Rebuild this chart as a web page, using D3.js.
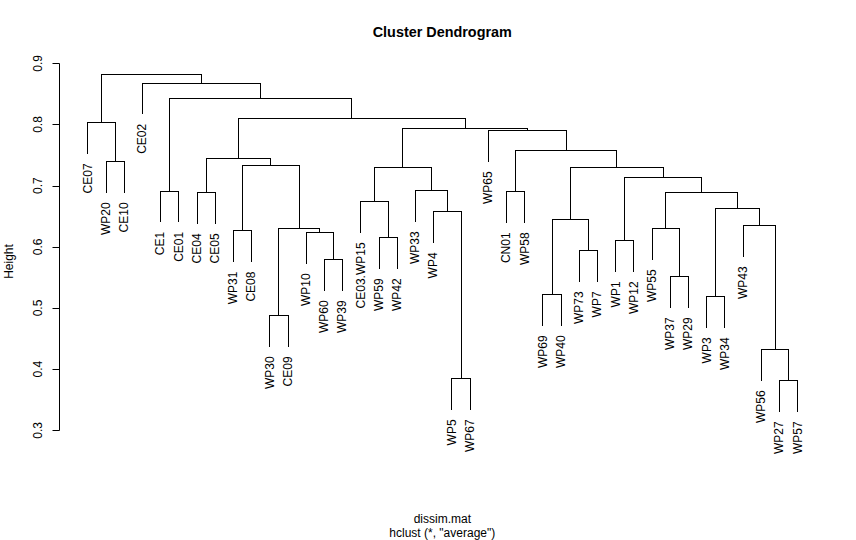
<!DOCTYPE html>
<html>
<head>
<meta charset="utf-8">
<script src="https://cdn.jsdelivr.net/npm/d3@7"></script>
<style>
  html, body { margin: 0; padding: 0; background: #fff; }
  svg { display: block; }
  text { font-family: "Liberation Sans", Arial, sans-serif; fill: #000; }
</style>
</head>
<body>
<svg id="chart" width="856" height="540"></svg>
<script>
// Leaf labels in display order (left to right)
const leafLabels = ["CE07","WP20","CE10","CE02","CE1","CE01","CE04","CE05","WP31","CE08",
  "WP30","CE09","WP10","WP60","WP39","CE03.WP15","WP59","WP42","WP33","WP4",
  "WP5","WP67","WP65","CN01","WP58","WP69","WP40","WP73","WP7","WP1",
  "WP12","WP55","WP37","WP29","WP3","WP34","WP43","WP56","WP27","WP57"];

// Merge steps (R hclust style): negative = leaf number (1-based, display order), positive = earlier merge step
const mergeLeft  = [-39,-21,-38,-11,-35,-26,-33,-14,-28,-30,-17,-13, -9, 4,-32,-37, 6,-20, 5,-16,15, -7,-24, -5,-19,10,20,17,13, -2,22,23,-23,27,31, -1,24, -4,36];
const mergeRight = [-40,-22,  1,-12,-36,-27,-34,-15,-29,-31,-18,  8,-10,12,  7,  3, 9,  2,16, 11,19, -8,-25, -6, 18,21,25,26,14, -3,29,28, 32,33,34, 30,35, 37,38];
const mergeHeight = [0.3818,0.3850,0.4325,0.4880,0.5191,0.5224,0.5518,0.5796,0.5943,0.6106,
  0.6155,0.6237,0.6267,0.6303,0.6303,0.6352,0.6450,0.6580,0.6630,0.6744,
  0.6896,0.6891,0.6907,0.6917,0.6924,0.7136,0.7300,0.7300,0.7333,0.7398,
  0.7447,0.7578,0.7905,0.7937,0.8101,0.8035,0.8428,0.8683,0.8820];

const yTicks = [0.3,0.4,0.5,0.6,0.7,0.8,0.9];
const titleText = "Cluster Dendrogram";
const xLabel = "dissim.mat";
const subLabel = "hclust (*, \"average\")";
const yLabel = "Height";

const svg = d3.select("#chart");
const x = d3.scaleLinear().domain([1, leafLabels.length]).range([87.3, 797.3]);
const y = d3.scaleLinear().domain([0.3, 0.9]).range([430.3, 63.3]);

const hang = 0.1 * (d3.max(mergeHeight) - d3.min(mergeHeight));

// compute node positions
const nodeX = [], nodeH = [];
function childX(c) { return c < 0 ? -c : nodeX[c - 1]; }
for (let i = 0; i < mergeHeight.length; i++) {
  nodeX[i] = (childX(mergeLeft[i]) + childX(mergeRight[i])) / 2;
  nodeH[i] = mergeHeight[i];
}

const segs = [];
const leafEnds = [];
for (let i = 0; i < mergeHeight.length; i++) {
  const h = mergeHeight[i];
  const kids = [mergeLeft[i], mergeRight[i]];
  const xs = kids.map(childX);
  segs.push([xs[0], h, xs[1], h]);
  kids.forEach((c, k) => {
    if (c < 0) {
      segs.push([xs[k], h, xs[k], h - hang]);
      leafEnds.push({ i: -c, y: h - hang });
    } else {
      segs.push([xs[k], h, xs[k], nodeH[c - 1]]);
    }
  });
}

const g = svg.append("g");
g.selectAll("line.seg").data(segs).join("line")
  .attr("class", "seg")
  .attr("x1", d => Math.round(x(d[0])) + 0.5)
  .attr("x2", d => Math.round(x(d[2])) + 0.5)
  .attr("y1", d => Math.round(y(d[1])) + 0.5)
  .attr("y2", d => Math.round(y(d[3])) + 0.5)
  .attr("stroke", "#000").attr("stroke-width", 1)
  .attr("stroke-linecap", "square");

// leaf labels
g.selectAll("text.leaf").data(leafEnds).join("text")
  .attr("class", "leaf")
  .attr("transform", d => `translate(${x(d.i) + 4.3},${y(d.y) + 10.5}) rotate(-90)`)
  .attr("text-anchor", "end")
  .attr("font-size", 12)
  .text(d => leafLabels[d.i - 1]);

// y axis (R style)
const axisX = 59.5;
const ax = svg.append("g");
ax.append("line")
  .attr("x1", axisX).attr("x2", axisX)
  .attr("y1", Math.round(y(0.9)) + 0.5).attr("y2", Math.round(y(0.3)) + 0.5)
  .attr("stroke", "#000");
ax.selectAll("line.tick").data(yTicks).join("line")
  .attr("class", "tick")
  .attr("x1", axisX).attr("x2", axisX - 7)
  .attr("y1", d => Math.round(y(d)) + 0.5).attr("y2", d => Math.round(y(d)) + 0.5)
  .attr("stroke", "#000");
ax.selectAll("text.tl").data(yTicks).join("text")
  .attr("class", "tl")
  .attr("transform", d => `translate(42.3,${y(d)}) rotate(-90)`)
  .attr("text-anchor", "middle")
  .attr("font-size", 12)
  .text(d => d3.format(".1f")(d));

svg.append("text")
  .attr("transform", "translate(13,261.5) rotate(-90)")
  .attr("text-anchor", "middle").attr("font-size", 12)
  .text(yLabel);

svg.append("text")
  .attr("x", 442.3).attr("y", 36.7)
  .attr("text-anchor", "middle").attr("font-size", 14.4).attr("font-weight", "bold")
  .text(titleText);

svg.append("text")
  .attr("x", 442.3).attr("y", 522.5)
  .attr("text-anchor", "middle").attr("font-size", 12)
  .text(xLabel);
svg.append("text")
  .attr("x", 442.3).attr("y", 536.5)
  .attr("text-anchor", "middle").attr("font-size", 12)
  .text(subLabel);
</script>
</body>
</html>
